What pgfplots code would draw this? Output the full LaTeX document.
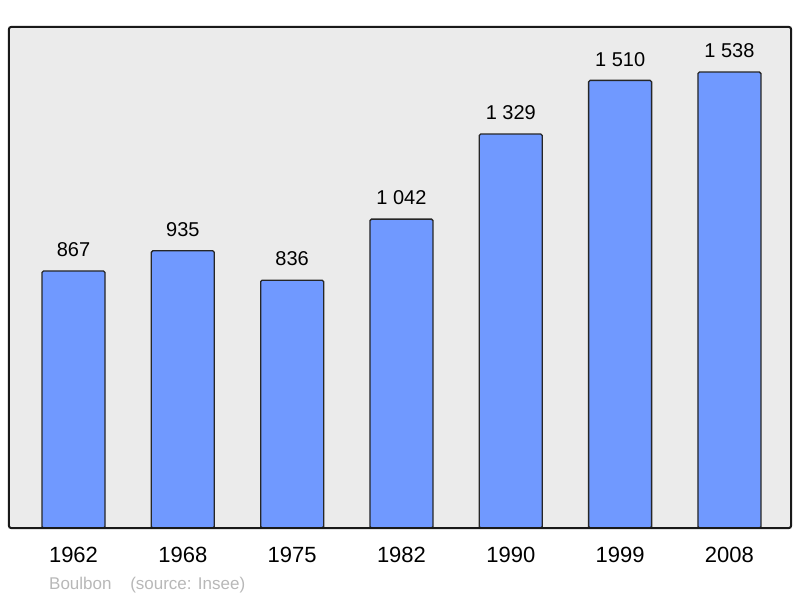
\documentclass[border=0pt]{standalone}
\usepackage{pgfplots}
\pgfplotsset{compat=1.18}
\usepackage{fontspec}
\setmainfont{Liberation Sans}
\definecolor{barblue}{HTML}{7099FF}
\definecolor{bgray}{HTML}{EBEBEB}
\definecolor{srcgray}{HTML}{B8B8B8}
\begin{document}
\begin{tikzpicture}
\useasboundingbox (-9pt,-70pt) rectangle (791pt,528pt);
\begin{axis}[
  at={(0pt,0pt)}, anchor=south west,
  scale only axis, width=782pt, height=501pt,
  xmin=-0.59, xmax=6.563, ymin=0, ymax=1690,
  axis background/.style={fill=bgray},
  axis line style={draw=none},
  ytick=\empty,
  xtick={0,1,2,3,4,5,6},
  xticklabels={1962,1968,1975,1982,1990,1999,2008},
  major tick length=0pt,
  xticklabel style={font=\fontsize{22}{25}\selectfont, yshift=-16pt},
  /pgf/number format/assume math mode=true,
  ybar, bar width=63pt,
  nodes near coords,
  nodes near coords style={font=\fontsize{20}{23}\selectfont, yshift=10pt,
     /pgf/number format/1000 sep={\ }},
  clip=false,
]
\addplot[fill=barblue, draw=black!85, line width=1.3pt, rounded corners=1.5pt]
 coordinates {(0,867) (1,935) (2,836) (3,1042) (4,1329) (5,1510) (6,1538)};
\end{axis}
\draw[black!90, line width=2pt, rounded corners=2pt] (0pt,0pt) rectangle (782pt,501pt);
\node[anchor=west, text=srcgray, font=\fontsize{17}{20}\selectfont, inner sep=0pt] at (40pt,-57pt) {Boulbon\hspace{1.1em}(source: Insee)};
\end{tikzpicture}
\end{document}
